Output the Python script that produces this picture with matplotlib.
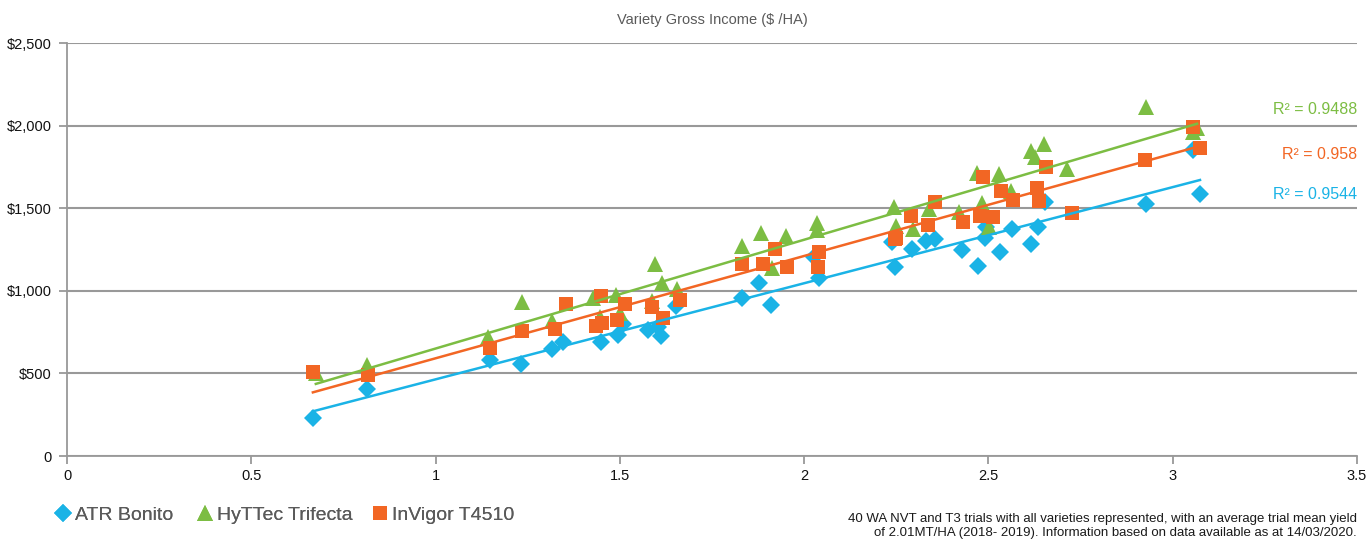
import numpy as np
import matplotlib.pyplot as plt
from matplotlib.ticker import FuncFormatter

plt.rcParams['font.family'] = ['Liberation Sans', 'DejaVu Sans']

# Yield (MT/HA) and gross income ($/HA) for each variety
bonito_x = [0.667, 0.814, 1.148, 1.232, 1.316, 1.346, 1.449, 1.494, 1.508, 1.576, 1.603, 1.611,
            1.652, 1.831, 1.877, 1.910, 2.027, 2.040, 2.238, 2.246, 2.292, 2.330, 2.355, 2.428,
            2.471, 2.490, 2.493, 2.531, 2.564, 2.615, 2.634, 2.653, 2.928, 3.055, 3.074]
bonito_y = [230, 405, 581, 557, 648, 690, 690, 732, 799, 763, 781, 726,
            908, 956, 1047, 914, 1205, 1077, 1295, 1144, 1253, 1301, 1313, 1247,
            1150, 1320, 1386, 1235, 1374, 1283, 1386, 1537, 1525, 1852, 1586]

trifecta_x = [0.675, 0.814, 1.142, 1.234, 1.316, 1.427, 1.489, 1.446, 1.500, 1.587, 1.595, 1.614,
              1.655, 1.831, 1.883, 1.913, 1.951, 2.035, 2.035, 2.244, 2.249, 2.295, 2.339, 2.420,
              2.482, 2.469, 2.528, 2.501, 2.561, 2.615, 2.626, 2.651, 2.713, 2.928, 3.055, 3.066]
trifecta_y = [502, 551, 720, 932, 817, 956, 975, 841, 866, 938, 1162, 1047,
              1011, 1271, 1350, 1138, 1332, 1410, 1368, 1507, 1392, 1374, 1495, 1477,
              1531, 1713, 1707, 1386, 1604, 1846, 1810, 1889, 1737, 2113, 1961, 1985]

invigor_x = [0.667, 0.817, 1.148, 1.234, 1.324, 1.354, 1.435, 1.449, 1.451, 1.514, 1.492, 1.587,
             1.617, 1.663, 1.831, 1.888, 1.921, 1.953, 2.040, 2.037, 2.246, 2.249, 2.290, 2.336,
             2.355, 2.431, 2.477, 2.512, 2.485, 2.534, 2.567, 2.632, 2.637, 2.656, 2.727, 2.925,
             3.055, 3.074]
invigor_y = [508, 490, 654, 757, 769, 920, 787, 968, 805, 920, 823, 902,
             835, 944, 1162, 1162, 1253, 1144, 1235, 1144, 1313, 1320, 1453, 1398,
             1537, 1416, 1453, 1447, 1689, 1604, 1550, 1622, 1544, 1749, 1471, 1792,
             1991, 1864]

r2_labels = ['0.9488', '0.958', '0.9544']

blue = '#1AB3E6'
green = '#7CBD43'
orange = '#F26624'
grey = '#5A5A5A'

fig = plt.figure(figsize=(13.71, 5.43), dpi=100)
ax = fig.add_axes([0.0489, 0.1602, 0.9409, 0.7606])

series = [
    (bonito_x, bonito_y, blue, 'D', 9, 'ATR Bonito'),
    (trifecta_x, trifecta_y, green, '^', 12, 'HyTTec Trifecta'),
    (invigor_x, invigor_y, orange, 's', 10.5, 'InVigor T4510'),
]
handles = []
for xs, ys, col, mk, ms, lab in series:
    h, = ax.plot(xs, ys, linestyle='none', marker=mk, markersize=ms, color=col,
                 markeredgewidth=0, label=lab, zorder=3)
    handles.append(h)
    # linear trend line over the data range
    k, b = np.polyfit(xs, ys, 1)
    xl = np.array([min(xs), max(xs)])
    ax.plot(xl, k * xl + b, color=col, linewidth=1.8, zorder=4)

ax.set_xlim(0, 3.5)
ax.set_ylim(0, 2500)
ax.set_xticks(np.arange(0, 3.51, 0.5))
ax.set_yticks(np.arange(0, 2501, 500))
ax.xaxis.set_major_formatter(FuncFormatter(lambda v, p: f'{v:g}'))
ax.yaxis.set_major_formatter(FuncFormatter(lambda v, p: '0' if v == 0 else f'${v:,.0f}'))
ax.tick_params(axis='both', colors='#999999', labelcolor='#111111', labelsize=10.5,
               length=6, width=1.3)
ax.tick_params(axis='y', pad=5)
ax.yaxis.grid(True, color='#999999', linewidth=1.5)
ax.set_axisbelow(True)
for side in ['top', 'right']:
    ax.spines[side].set_visible(False)
for side in ['left', 'bottom']:
    ax.spines[side].set_color('#999999')
    ax.spines[side].set_linewidth(1.3)

ax.set_title('Variety Gross Income ($ /HA)', fontsize=10.5, color=grey, pad=14)

# R squared labels
r2_y = [0.799, 0.715, 0.641]
for lab, col, yy in zip(r2_labels, [green, orange, blue], r2_y):
    fig.text(0.9898, yy, f'R\u00b2 = {lab}', color=col, fontsize=11.5, ha='right', va='center')

# legend entries placed one by one
leg_x = [0.040, 0.1437, 0.2713]
for h, lx in zip(handles, leg_x):
    leg = fig.legend(handles=[h], loc='center left', bbox_to_anchor=(lx, 0.0516),
                     frameon=False, fontsize=14, labelcolor=grey, handlelength=0.8,
                     handletextpad=0.25, borderpad=0, borderaxespad=0)
    fig.add_artist(leg)

fig.text(0.9898, 0.031, '40 WA NVT and T3 trials with all varieties represented, with an average trial mean yield\n'
         'of 2.01MT/HA (2018- 2019). Information based on data available as at 14/03/2020.',
         ha='right', va='center', fontsize=9.5, color='#1a1a1a', linespacing=1.15,
         multialignment='right')

fig.savefig('out.png', dpi=100)
